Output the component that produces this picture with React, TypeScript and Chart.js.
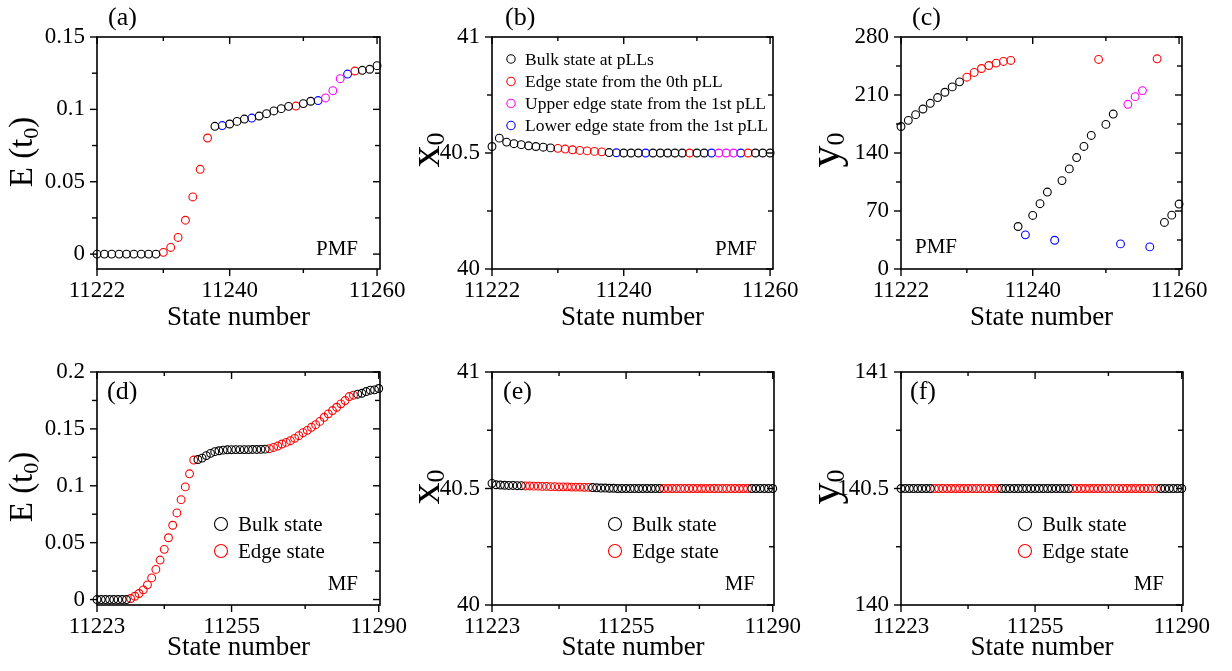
import React, { useEffect, useRef } from 'react';
import { Chart, registerables } from 'chart.js';

Chart.register(...registerables);

const SERIF = "'Liberation Serif', 'Times New Roman', Times, serif";

// ---------------- data ----------------
const statesPMF = [
  11222, 11223, 11224, 11225, 11226, 11227, 11228, 11229, 11230, 11231,
  11232, 11233, 11234, 11235, 11236, 11237, 11238, 11239, 11240, 11241,
  11242, 11243, 11244, 11245, 11246, 11247, 11248, 11249, 11250, 11251,
  11252, 11253, 11254, 11255, 11256, 11257, 11258, 11259, 11260,
];
// B = bulk, E = edge (0th pLL), U = upper edge (1st pLL), L = lower edge (1st pLL)
const typesPMF = [
  'B', 'B', 'B', 'B', 'B', 'B', 'B', 'B', 'B',
  'E', 'E', 'E', 'E', 'E', 'E', 'E',
  'B', 'L', 'B', 'B', 'B', 'L', 'B', 'B', 'B', 'B', 'B', 'E', 'B', 'B',
  'L', 'U', 'U', 'U', 'L', 'E', 'B', 'B', 'B',
];
const energyPMF = [
  0, 0, 0, 0, 0, 0, 0, 0, 0,
  0.0012, 0.0046, 0.0115, 0.0234, 0.0395, 0.0586, 0.0802,
  0.0883, 0.0888, 0.0899, 0.0917, 0.0933, 0.094, 0.0954, 0.097, 0.0989, 0.1005,
  0.1021, 0.1023, 0.104, 0.1056, 0.1061, 0.1079, 0.1129, 0.1212, 0.1244, 0.1265,
  0.127, 0.1277, 0.1302,
];
const x0PMF = [
  40.528, 40.564, 40.547, 40.54, 40.536, 40.531, 40.528, 40.525, 40.522,
  40.52, 40.517, 40.514, 40.511, 40.509, 40.507, 40.505,
  40.502, 40.501, 40.5, 40.5, 40.5, 40.5, 40.5, 40.5, 40.5, 40.5, 40.5, 40.5,
  40.5, 40.5, 40.5, 40.5, 40.5, 40.5, 40.5, 40.5, 40.5, 40.5, 40.5,
];
const y0PMF = [
  172.0, 179.4, 186.3, 193.1, 200.0, 206.9, 213.3, 219.8, 225.9,
  231.5, 237.2, 242.0, 245.6, 248.5, 250.5, 251.7,
  51.3, 41.2, 64.6, 78.8, 92.9, 34.7, 106.7, 120.8, 134.5, 147.9, 161.2, 252.9,
  174.5, 187.0, 30.3, 198.8, 208.0, 215.3, 26.7, 253.7, 56.2, 65.0, 78.4,
];

const statesMF = [
  11223, 11224, 11225, 11226, 11227, 11228, 11229, 11230, 11231, 11232,
  11233, 11234, 11235, 11236, 11237, 11238, 11239, 11240, 11241, 11242,
  11243, 11244, 11245, 11246, 11247, 11248, 11249, 11250, 11251, 11252,
  11253, 11254, 11255, 11256, 11257, 11258, 11259, 11260, 11261, 11262,
  11263, 11264, 11265, 11266, 11267, 11268, 11269, 11270, 11271, 11272,
  11273, 11274, 11275, 11276, 11277, 11278, 11279, 11280, 11281, 11282,
  11283, 11284, 11285, 11286, 11287, 11288, 11289, 11290,
];
const typesMF = [
  'B', 'B', 'B', 'B', 'B', 'B', 'B', 'B',
  'E', 'E', 'E', 'E', 'E', 'E', 'E', 'E', 'E', 'E', 'E', 'E', 'E', 'E', 'E', 'E',
  'B', 'B', 'B', 'B', 'B', 'B', 'B', 'B', 'B', 'B', 'B', 'B', 'B', 'B', 'B', 'B', 'B',
  'E', 'E', 'E', 'E', 'E', 'E', 'E', 'E', 'E', 'E', 'E', 'E', 'E', 'E', 'E', 'E', 'E', 'E', 'E', 'E', 'E',
  'B', 'B', 'B', 'B', 'B', 'B',
];
const energyMF = [
  0, 0, 0, 0, 0, 0, 0, 0,
  0.0009, 0.0029, 0.0053, 0.0085, 0.0129, 0.019, 0.0265, 0.0347,
  0.0441, 0.0543, 0.0653, 0.0761, 0.0878, 0.099, 0.1105, 0.1226,
  0.1231, 0.1243, 0.1265, 0.1285, 0.13, 0.1308, 0.1313, 0.1316, 0.1317,
  0.1318, 0.1318, 0.1318, 0.1318, 0.1319, 0.1319, 0.132, 0.1322,
  0.1326, 0.1337, 0.1349, 0.1367, 0.1381, 0.1396, 0.1417, 0.144, 0.1467, 0.1487,
  0.1514, 0.1537, 0.1566, 0.1602, 0.1632, 0.1661, 0.169, 0.172, 0.1749, 0.1784, 0.1796,
  0.1805, 0.1813, 0.1828, 0.184, 0.1843, 0.1855,
];
const x0MF = [
  40.522, 40.516, 40.515, 40.514, 40.513, 40.513, 40.512, 40.512,
  40.511, 40.511, 40.51, 40.51, 40.509, 40.509, 40.508, 40.508,
  40.507, 40.507, 40.507, 40.506, 40.506, 40.506, 40.505, 40.505,
  40.504, 40.503, 40.502, 40.502, 40.501, 40.501, 40.5, 40.5, 40.5,
  40.5, 40.5, 40.5, 40.5, 40.5, 40.5, 40.5, 40.5,
  40.5, 40.5, 40.5, 40.5, 40.5, 40.5, 40.5, 40.5, 40.5, 40.5, 40.5,
  40.5, 40.5, 40.5, 40.5, 40.5, 40.5, 40.5, 40.5, 40.5, 40.5,
  40.5, 40.5, 40.5, 40.5, 40.5, 40.5,
];
const y0MF = [
  140.5, 140.5, 140.5, 140.5, 140.5, 140.5, 140.5, 140.5, 140.5, 140.5,
  140.5, 140.5, 140.5, 140.5, 140.5, 140.5, 140.5, 140.5, 140.5, 140.5,
  140.5, 140.5, 140.5, 140.5, 140.5, 140.5, 140.5, 140.5, 140.5, 140.5,
  140.5, 140.5, 140.5, 140.5, 140.5, 140.5, 140.5, 140.5, 140.5, 140.5,
  140.5, 140.5, 140.5, 140.5, 140.5, 140.5, 140.5, 140.5, 140.5, 140.5,
  140.5, 140.5, 140.5, 140.5, 140.5, 140.5, 140.5, 140.5, 140.5, 140.5,
  140.5, 140.5, 140.5, 140.5, 140.5, 140.5, 140.5, 140.5,
];

const typeOrderPMF = ['B', 'E', 'U', 'L'];
const labelsPMF: Record<string, string> = {
  B: 'Bulk state at pLLs',
  E: 'Edge state from the 0th pLL',
  U: 'Upper edge state from the 1st pLL',
  L: 'Lower edge state from the 1st pLL',
};
const typeOrderMF = ['B', 'E'];
const labelsMF: Record<string, string> = { B: 'Bulk state', E: 'Edge state' };
const typeColors: Record<string, string> = { B: '#000000', E: '#ff0000', U: '#ff00ff', L: '#0000ff' };

// tick values
const xTicksPMF = [11222, 11240, 11260];
const xMinorPMF = [11231, 11250];
const xTicksMF = [11223, 11255, 11290];
const xMinorMF = [11239, 11272.5];
const eTicksPMF = [0, 0.05, 0.1, 0.15];
const eMinorPMF = [0.025, 0.075, 0.125];
const eTicksMF = [0, 0.05, 0.1, 0.15, 0.2];
const eMinorMF = [0.025, 0.075, 0.125, 0.175];
const x0Ticks = [40, 40.5, 41];
const x0Minor = [40.25, 40.75];
const y0TicksPMF = [0, 70, 140, 210, 280];
const y0MinorPMF = [35, 105, 175, 245];
const y0TicksMF = [140, 140.5, 141];
const y0MinorMF = [140.25, 140.75];

// ---------------- panel layout ----------------
type Part = { text: string; size: number; dy: number };
type PanelCfg = {
  key: string;
  left: number; top: number; width: number; height: number;
  area: { left: number; top: number; right: number; bottom: number };
  xs: number[]; ys: number[]; types: string[]; order: string[]; labels: Record<string, string>;
  xMin: number; xMax: number; xMajor: number[]; xMinor: number[];
  yMin: number; yMax: number; yMajor: number[]; yMinor: number[];
  xTitlePad: number;
  yTitle: { parts: Part[]; cx: number; cy: number; base: number };
  letter: { text: string; x: number; y: number };
  note: { text: string; x: number; y: number; align: CanvasTextAlign };
  legend: null | { mx: number; tx: number; rows: number[]; r: number; size: number };
};

const eTitle: Part[] = [
  { text: 'E (t', size: 33, dy: 0 },
  { text: '0', size: 22, dy: 6 },
  { text: ')', size: 33, dy: 0 },
];
const x0Title: Part[] = [
  { text: 'x', size: 44, dy: 0 },
  { text: '0', size: 26, dy: 5 },
];
const y0Title: Part[] = [
  { text: 'y', size: 44, dy: 0 },
  { text: '0', size: 26, dy: 5 },
];

const panels: PanelCfg[] = [
  {
    key: 'a', left: 0, top: 0, width: 420, height: 335,
    area: { left: 97, top: 37, right: 380, bottom: 269 },
    xs: statesPMF, ys: energyPMF, types: typesPMF, order: typeOrderPMF, labels: labelsPMF,
    xMin: 11222, xMax: 11260.4, xMajor: xTicksPMF, xMinor: xMinorPMF,
    yMin: -0.0103, yMax: 0.15, yMajor: eTicksPMF, yMinor: eMinorPMF,
    xTitlePad: 1,
    yTitle: { parts: eTitle, cx: 21, cy: 152, base: 11 },
    letter: { text: '(a)', x: 108, y: 25 },
    note: { text: 'PMF', x: 358, y: 255, align: 'right' },
    legend: null,
  },
  {
    key: 'b', left: 395, top: 0, width: 420, height: 335,
    area: { left: 97, top: 37, right: 378, bottom: 269 },
    xs: statesPMF, ys: x0PMF, types: typesPMF, order: typeOrderPMF, labels: labelsPMF,
    xMin: 11222, xMax: 11260.4, xMajor: xTicksPMF, xMinor: xMinorPMF,
    yMin: 40, yMax: 41, yMajor: x0Ticks, yMinor: x0Minor,
    xTitlePad: 1,
    yTitle: { parts: x0Title, cx: 32, cy: 150, base: 12 },
    letter: { text: '(b)', x: 110, y: 25 },
    note: { text: 'PMF', x: 362, y: 255, align: 'right' },
    legend: { mx: 19, tx: 33, rows: [22, 44.5, 66.5, 88.5], r: 4.2, size: 17.5 },
  },
  {
    key: 'c', left: 804, top: 0, width: 428, height: 335,
    area: { left: 97, top: 37, right: 378, bottom: 269 },
    xs: statesPMF, ys: y0PMF, types: typesPMF, order: typeOrderPMF, labels: labelsPMF,
    xMin: 11222, xMax: 11260.4, xMajor: xTicksPMF, xMinor: xMinorPMF,
    yMin: 0, yMax: 280, yMajor: y0TicksPMF, yMinor: y0MinorPMF,
    xTitlePad: 1,
    yTitle: { parts: y0Title, cx: 23, cy: 150, base: 12 },
    letter: { text: '(c)', x: 108, y: 25 },
    note: { text: 'PMF', x: 111, y: 253, align: 'left' },
    legend: null,
  },
  {
    key: 'd', left: 0, top: 335, width: 420, height: 336,
    area: { left: 97, top: 37, right: 380, bottom: 270 },
    xs: statesMF, ys: energyMF, types: typesMF, order: typeOrderMF, labels: labelsMF,
    xMin: 11223, xMax: 11290.3, xMajor: xTicksMF, xMinor: xMinorMF,
    yMin: -0.0048, yMax: 0.2, yMajor: eTicksMF, yMinor: eMinorMF,
    xTitlePad: 7,
    yTitle: { parts: eTitle, cx: 21, cy: 152, base: 11 },
    letter: { text: '(d)', x: 107, y: 64 },
    note: { text: 'MF', x: 358, y: 255, align: 'right' },
    legend: { mx: 124, tx: 141, rows: [152, 179], r: 6.5, size: 21 },
  },
  {
    key: 'e', left: 395, top: 335, width: 420, height: 336,
    area: { left: 97, top: 37, right: 379, bottom: 270 },
    xs: statesMF, ys: x0MF, types: typesMF, order: typeOrderMF, labels: labelsMF,
    xMin: 11223, xMax: 11290.3, xMajor: xTicksMF, xMinor: xMinorMF,
    yMin: 40, yMax: 41, yMajor: x0Ticks, yMinor: x0Minor,
    xTitlePad: 7,
    yTitle: { parts: x0Title, cx: 32, cy: 152, base: 12 },
    letter: { text: '(e)', x: 108, y: 64 },
    note: { text: 'MF', x: 360, y: 255, align: 'right' },
    legend: { mx: 123, tx: 140, rows: [152, 179], r: 6.5, size: 21 },
  },
  {
    key: 'f', left: 804, top: 335, width: 428, height: 336,
    area: { left: 97, top: 37, right: 379, bottom: 270 },
    xs: statesMF, ys: y0MF, types: typesMF, order: typeOrderMF, labels: labelsMF,
    xMin: 11223, xMax: 11290.3, xMajor: xTicksMF, xMinor: xMinorMF,
    yMin: 140, yMax: 141, yMajor: y0TicksMF, yMinor: y0MinorMF,
    xTitlePad: 7,
    yTitle: { parts: y0Title, cx: 23, cy: 152, base: 12 },
    letter: { text: '(f)', x: 106, y: 64 },
    note: { text: 'MF', x: 360, y: 255, align: 'right' },
    legend: { mx: 124, tx: 141, rows: [152, 179], r: 6.5, size: 21 },
  },
];

function makeDecor(p: PanelCfg) {
  return {
    id: 'decor_' + p.key,
    beforeDatasetsDraw(chart: any) {
      const { ctx, chartArea: a } = chart;
      const sx = chart.scales.x;
      const sy = chart.scales.y;
      ctx.save();
      ctx.strokeStyle = '#000';
      ctx.lineWidth = 1.6;
      ctx.strokeRect(a.left, a.top, a.right - a.left, a.bottom - a.top);
      ctx.lineWidth = 1.4;
      const seg = (x1: number, y1: number, x2: number, y2: number) => {
        ctx.beginPath();
        ctx.moveTo(x1, y1);
        ctx.lineTo(x2, y2);
        ctx.stroke();
      };
      const xt = (v: number, len: number) => {
        const px = sx.getPixelForValue(v);
        seg(px, a.bottom, px, a.bottom + len);
        seg(px, a.top, px, a.top + len);
      };
      const yt = (v: number, len: number) => {
        const py = sy.getPixelForValue(v);
        seg(a.left - len, py, a.left, py);
        seg(a.right - len, py, a.right, py);
      };
      p.xMajor.forEach((v) => xt(v, 7));
      p.xMinor.forEach((v) => xt(v, 4));
      p.yMajor.forEach((v) => yt(v, 7));
      p.yMinor.forEach((v) => yt(v, 5));
      ctx.restore();
    },
    afterDraw(chart: any) {
      const { ctx, chartArea: a } = chart;
      ctx.save();
      ctx.fillStyle = '#000';
      // panel letter
      ctx.font = `26px ${SERIF}`;
      ctx.textAlign = 'left';
      ctx.textBaseline = 'alphabetic';
      ctx.fillText(p.letter.text, p.letter.x, p.letter.y);
      // PMF / MF note
      ctx.font = `21px ${SERIF}`;
      ctx.textAlign = p.note.align;
      ctx.fillText(p.note.text, p.note.x, p.note.y);
      // y title with subscript
      const t = p.yTitle;
      ctx.save();
      ctx.translate(t.cx, t.cy);
      ctx.rotate(-Math.PI / 2);
      ctx.textAlign = 'left';
      const widths = t.parts.map((pt) => {
        ctx.font = `${pt.size}px ${SERIF}`;
        return ctx.measureText(pt.text).width;
      });
      const total = widths.reduce((s, w) => s + w, 0);
      let cx = -total / 2;
      t.parts.forEach((pt, i) => {
        ctx.font = `${pt.size}px ${SERIF}`;
        ctx.fillText(pt.text, cx, t.base + pt.dy);
        cx += widths[i];
      });
      ctx.restore();
      // legend
      if (p.legend) {
        const lg = p.legend;
        ctx.font = `${lg.size}px ${SERIF}`;
        ctx.textAlign = 'left';
        ctx.textBaseline = 'middle';
        p.order.forEach((ty, i) => {
          const y = a.top + lg.rows[i];
          ctx.beginPath();
          ctx.arc(a.left + lg.mx, y, lg.r, 0, Math.PI * 2);
          ctx.strokeStyle = typeColors[ty];
          ctx.lineWidth = 1.1;
          ctx.stroke();
          ctx.fillStyle = '#000';
          ctx.fillText(p.labels[ty], a.left + lg.tx, y + 1);
        });
      }
      ctx.restore();
    },
  };
}

function Panel({ p }: { p: PanelCfg }) {
  const ref = useRef<HTMLCanvasElement>(null);
  useEffect(() => {
    const canvas = ref.current;
    if (!canvas) return;
    const datasets = p.order.map((ty) => ({
      label: p.labels[ty],
      data: p.xs
        .map((x, i) => ({ x, y: p.ys[i], t: p.types[i] }))
        .filter((d) => d.t === ty)
        .map((d) => ({ x: d.x, y: d.y })),
      borderColor: typeColors[ty],
      backgroundColor: 'rgba(0,0,0,0)',
      pointRadius: 3.9,
      pointBorderWidth: 1.1,
      pointStyle: 'circle',
      showLine: false,
      clip: false as any,
    }));
    const tickFont = { family: SERIF, size: 23 };
    const chart = new Chart(canvas, {
      type: 'scatter',
      data: { datasets },
      options: {
        responsive: false,
        animation: false,
        events: [],
        layout: { padding: { left: 0, top: p.area.top, right: p.width - p.area.right, bottom: 0 } },
        plugins: { legend: { display: false }, tooltip: { enabled: false } },
        scales: {
          x: {
            type: 'linear',
            position: 'bottom',
            min: p.xMin,
            max: p.xMax,
            grid: { display: false, drawTicks: false },
            border: { display: false },
            afterBuildTicks: (s: any) => {
              s.ticks = p.xMajor.map((v) => ({ value: v }));
            },
            afterFit: (s: any) => {
              s.height = p.height - p.area.bottom;
              s.paddingLeft = 0;
              s.paddingRight = 0;
            },
            ticks: {
              color: '#000',
              font: tickFont,
              padding: 8,
              maxRotation: 0,
              autoSkip: false,
              callback: (v: any) => String(v),
            },
            title: {
              display: true,
              text: 'State number',
              color: '#000',
              font: { family: SERIF, size: 27 },
              padding: { top: 0, bottom: p.xTitlePad },
            },
          },
          y: {
            type: 'linear',
            position: 'left',
            min: p.yMin,
            max: p.yMax,
            grid: { display: false, drawTicks: false },
            border: { display: false },
            afterBuildTicks: (s: any) => {
              s.ticks = p.yMajor.map((v) => ({ value: v }));
            },
            afterFit: (s: any) => {
              s.width = p.area.left;
              s.paddingTop = 0;
              s.paddingBottom = 0;
            },
            ticks: {
              color: '#000',
              font: tickFont,
              padding: 12,
              autoSkip: false,
              callback: (v: any) => String(v),
            },
          },
        },
      } as any,
      plugins: [makeDecor(p)],
    });
    return () => chart.destroy();
  }, [p]);
  return (
    <canvas
      ref={ref}
      width={p.width}
      height={p.height}
      style={{ position: 'absolute', left: p.left, top: p.top, width: p.width, height: p.height }}
    />
  );
}

export default function App() {
  return (
    <div style={{ position: 'absolute', left: 0, top: 0, width: 1232, height: 671, background: '#fff', overflow: 'hidden' }}>
      {panels.map((p) => (
        <Panel key={p.key} p={p} />
      ))}
    </div>
  );
}
